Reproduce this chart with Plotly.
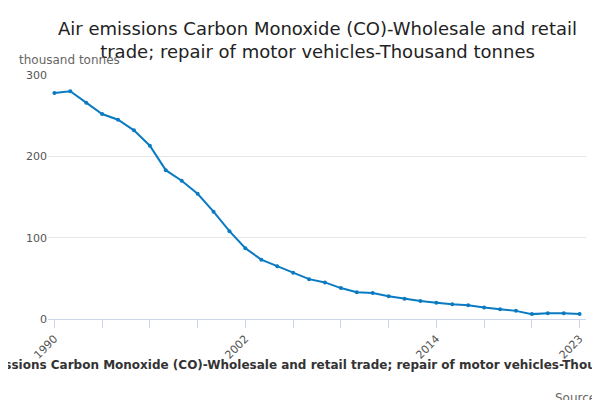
import plotly.graph_objects as go

years = list(range(1990, 2024))
values = [278, 280, 266, 252, 245, 232, 213, 183, 170, 154, 132, 108, 87, 73, 65,
          57, 49, 45, 38, 33, 32, 28, 25, 22, 20, 18, 17, 14, 12, 10, 6, 7, 7, 6]
tick_years = [1990, 2002, 2014, 2023]

title = "Air emissions Carbon Monoxide (CO)-Wholesale and retail trade; repair of motor vehicles-Thousand tonnes"

fig = go.Figure()
fig.add_trace(go.Scatter(x=years, y=values, mode="lines+markers",
                         line=dict(color="#0a7bc2", width=2),
                         marker=dict(color="#0a7bc2", size=4)))

fig.update_layout(
    width=600, height=400,
    margin=dict(l=40, r=22, t=67, b=89),
    plot_bgcolor="white", paper_bgcolor="white",
    font=dict(family="DejaVu Sans", color="#333"),
    showlegend=False,
    xaxis=dict(range=[1989.6, 2023.4], tickvals=tick_years, tickangle=-45,
               tickfont=dict(size=11, color="#555"), showgrid=False,
               showline=True, linecolor="#ccd6eb", ticks="outside",
               tickcolor="#ccd6eb", ticklen=8,
               minor=dict(tickvals=list(range(1990, 2024, 3)), ticks="outside",
                          ticklen=8, tickcolor="#ccd6eb")),
    yaxis=dict(range=[0, 300], tickvals=[0, 100, 200, 300],
               tickfont=dict(size=11, color="#555"), gridcolor="#e6e6e6",
               zeroline=False),
)
fig.add_annotation(text="Air emissions Carbon Monoxide (CO)-Wholesale and retail<br>trade; repair of motor vehicles-Thousand tonnes",
                   xref="paper", yref="paper", x=0.5, y=1.24,
                   xanchor="center", yanchor="top", showarrow=False,
                   font=dict(size=18, color="#222"))
fig.add_annotation(text="thousand tonnes", xref="paper", yref="paper",
                   x=-0.058, y=1.06, xanchor="left", yanchor="middle",
                   showarrow=False, font=dict(size=12, color="#666"))
fig.add_annotation(text="<b>" + title + "</b>", xref="paper", yref="paper",
                   x=0.5, y=-0.19, xanchor="center", yanchor="middle",
                   showarrow=False, font=dict(size=12, color="#333"))
fig.add_annotation(text="Source:", xref="paper", yref="paper",
                   x=1.03, y=-0.325, xanchor="right", yanchor="middle",
                   showarrow=False, font=dict(size=12, color="#666"))

fig.write_html("out.html")
